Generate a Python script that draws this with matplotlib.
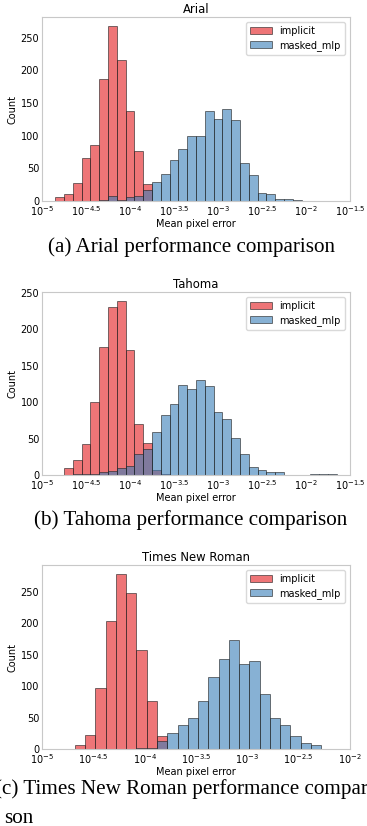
#!/usr/bin/env python3
"""Three stacked log-x histograms: implicit vs masked_mlp pixel error per font."""

import matplotlib
matplotlib.use("Agg")
import matplotlib.pyplot as plt
import numpy as np

# ---- data (counts per 0.1-decade bin) ----
FONTS = ["Arial", "Tahoma", "Times New Roman"]
CAPTIONS = ["(a) Arial performance comparison", "(b) Tahoma performance comparison"]

# log10 of the first bin edge for each panel, bin width in decades
ARIAL_START = -4.85
TAHOMA_START = -4.75
TNR_START = -4.68
BIN_W = 0.1

ARIAL_IMPLICIT = [6, 11, 28, 66, 86, 186, 268, 216, 138, 77, 26, 0, 0, 0,
                  0, 0, 0, 0, 0, 0, 0, 0, 0, 0, 0, 0, 0, 0]
ARIAL_MLP = [0, 0, 0, 0, 0, 1, 7, 1, 6, 8, 17, 29, 42, 63,
             80, 100, 99, 137, 126, 141, 124, 58, 39, 12, 11, 3, 3, 1]

TAHOMA_IMPLICIT = [10, 21, 43, 100, 175, 230, 239, 172, 70, 44, 7, 1, 0, 0,
                   0, 0, 0, 0, 0, 0, 0, 0, 0, 0, 0, 0, 0, 0, 0, 0, 0]
TAHOMA_MLP = [0, 1, 1, 1, 4, 5, 10, 13, 29, 36, 59, 82, 97, 123,
              118, 130, 122, 86, 77, 51, 29, 11, 7, 4, 4, 0, 0, 0, 1, 1, 1]

TNR_IMPLICIT = [7, 23, 97, 203, 279, 249, 158, 77, 21, 0, 0, 0,
                0, 0, 0, 0, 0, 0, 0, 0, 0, 0, 0, 0]
TNR_MLP = [0, 0, 0, 0, 0, 0, 1, 1, 13, 25, 39, 50,
           77, 114, 143, 173, 135, 140, 87, 50, 38, 20, 9, 6]

XMAX_LOG = [-1.5, -1.5, -2.0]

C_IMPL = "#e41a1c"
C_MLP = "#377eb8"
ALPHA = 0.6

W, H = 367, 826


def draw_panel(ax, title, start, implicit, mlp, xmax):
    n = len(implicit)
    edges_log = start + BIN_W * np.arange(n + 1)
    centers = 10 ** (0.5 * (edges_log[:-1] + edges_log[1:]))
    edges = 10 ** edges_log
    for vals, col, lab in [(implicit, C_IMPL, "implicit"), (mlp, C_MLP, "masked_mlp")]:
        ax.hist(centers, bins=edges, weights=vals, color=col, alpha=ALPHA,
                edgecolor="#222222", linewidth=0.7, label=lab)
    ax.set_xscale("log")
    ax.set_xlim(1e-5, 10 ** xmax)
    ax.margins(y=0.05)
    ax.set_ylim(bottom=0)

    tick_logs = np.arange(-5, xmax + 0.01, 0.5)
    ax.set_xticks(10 ** tick_logs)
    labels = []
    for t in tick_logs:
        s = f"{t:g}"
        labels.append(r"$\mathdefault{10^{" + s + r"}}$")
    ax.set_xticklabels(labels)
    ax.xaxis.set_minor_locator(matplotlib.ticker.NullLocator())
    ax.tick_params(axis="both", length=0, labelsize=7, pad=2)
    ax.set_yticks([0, 50, 100, 150, 200, 250])

    ax.set_title(title, fontsize=8.4, pad=3)
    ax.set_xlabel("Mean pixel error", fontsize=7, labelpad=1)
    ax.set_ylabel("Count", fontsize=7, labelpad=2)
    for sp in ax.spines.values():
        sp.set_color("#c8c8c8")
        sp.set_linewidth(0.8)
    leg = ax.legend(loc="upper right", fontsize=7, handlelength=2.2,
                    borderpad=0.45, labelspacing=0.35)
    leg.get_frame().set_edgecolor("#d0d0d0")


def main():
    fig = plt.figure(figsize=(W / 100, H / 100), dpi=100)

    # axes boxes in pixel coords: left, top, right, bottom
    boxes = [(42, 17, 350, 201), (42, 292, 350, 475), (42, 565, 350, 749)]
    data = [(ARIAL_START, ARIAL_IMPLICIT, ARIAL_MLP),
            (TAHOMA_START, TAHOMA_IMPLICIT, TAHOMA_MLP),
            (TNR_START, TNR_IMPLICIT, TNR_MLP)]
    for (l, t, r, b), title, (start, imp, mlp), xmax in zip(boxes, FONTS, data, XMAX_LOG):
        ax = fig.add_axes([l / W, 1 - b / H, (r - l) / W, (b - t) / H])
        draw_panel(ax, title, start, imp, mlp, xmax)

    cap_font = dict(family="Liberation Serif", fontsize=15.2)
    fig.text(191 / W, 1 - 247 / H, CAPTIONS[0], ha="center", va="center", **cap_font)
    fig.text(191 / W, 1 - 520 / H, CAPTIONS[1], ha="center", va="center", **cap_font)
    fig.text(-5 / W, 1 - 794 / H, "(c) Times New Roman performance compari-",
             ha="left", va="baseline", **cap_font)
    fig.text(4 / W, 1 - 823 / H, "son", ha="left", va="baseline", **cap_font)

    fig.savefig("out.png", dpi=100)
    plt.close(fig)


if __name__ == "__main__":
    main()
